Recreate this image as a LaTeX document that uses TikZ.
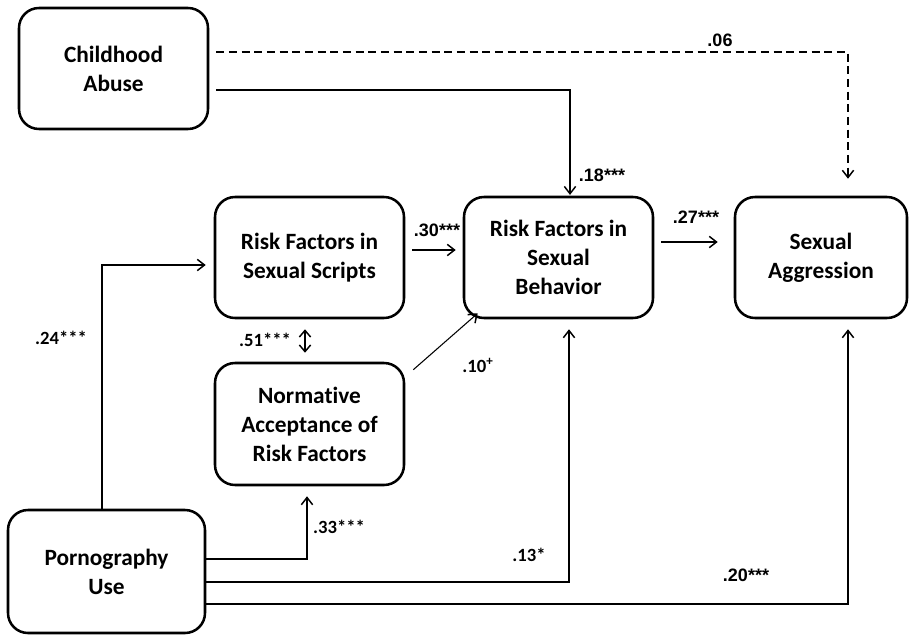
\documentclass[tikz,border=0pt]{standalone}
\usepackage{fontspec}
\setmainfont{Carlito}[Ligatures=NoCommon]
\newfontfamily\arialfont{Liberation Sans}
\usetikzlibrary{arrows.meta,calc}
\begin{document}
\begin{tikzpicture}[x=0.75pt,y=-0.75pt,
  box/.style={draw, line width=1.9pt, rounded corners=15pt, align=center,
    font=\fontsize{17.5}{21.75}\selectfont\bfseries, inner sep=0pt},
  link/.style={line width=1.1pt, -{Straight Barb[length=5.5pt,width=8.5pt,line width=1.1pt]}},
  thinlink/.style={link, line width=0.8pt},
  twoway/.style={line width=1.1pt, {Straight Barb[length=5pt,width=8.5pt,line width=1.1pt]}-{Straight Barb[length=5pt,width=8.5pt,line width=1.1pt]}},
  dashlink/.style={link, dash pattern=on 6pt off 3.5pt},
  coefA/.style={font=\fontsize{13.5}{16}\selectfont\arialfont\bfseries, inner sep=0pt},
  coefC/.style={font=\fontsize{14}{16}\selectfont\bfseries, inner sep=0pt}]
\useasboundingbox (0,0) rectangle (915,635);

% variables
\node[box, minimum width=141.75pt, minimum height=90.75pt] (CA) at (113.5,68.5) {Childhood\\Abuse};
\node[box, minimum width=141.75pt, minimum height=90.75pt] (RS) at (309.5,257.5) {Risk Factors in\\Sexual Scripts};
\node[box, minimum width=141.75pt, minimum height=91.5pt] (NA) at (309.5,424) {Normative\\Acceptance of\\Risk Factors};
\node[box, minimum width=141.75pt, minimum height=90.75pt] (RB) at (558.5,257.5) {Risk Factors in\\Sexual\\Behavior};
\node[box, minimum width=129pt, minimum height=90.75pt] (SA) at (821,257.5) {Sexual\\Aggression};
\node[box, minimum width=147.75pt, minimum height=92.25pt] (PU) at (106.5,571.5) {Pornography\\Use};

% paths
\draw[dashlink, shorten <=5.25pt, shorten >=12.75pt]
  ($(CA.east)+(0,-16.5)$) -| ($(SA.north)+(27,0)$);
\draw[thinlink, shorten <=5.25pt, shorten >=0.6pt]
  ($(CA.east)+(0,21.5)$) -| ($(RB.north)+(11.5,0)$);
\draw[link, shorten <=5.25pt, shorten >=5.25pt]
  ($(RS.east)+(0,-7.5)$) -- ($(RB.west)+(0,-7.5)$);
\draw[link, shorten <=5.25pt, shorten >=12pt]
  ($(RB.east)+(0,-15.5)$) -- ($(SA.west)+(0,-15.5)$);
\draw[twoway, shorten <=7.5pt, shorten >=6.75pt]
  ($(RS.south)+(-4.5,0)$) -- ($(NA.north)+(-4.5,0)$);
\draw[link, shorten >=6pt]
  ($(PU.north)+(-4.5,0)$) |- ($(RS.west)+(0,7.5)$);
\draw[thinlink]
  ($(NA.north east)+(8,8)$) -- ($(RB.south west)+(15,-6)$);
\draw[link, shorten >=7.5pt]
  ($(PU.east)+(0,-12.5)$) -| ($(NA.south)+(-2.5,0)$);
\draw[link, shorten >=7.5pt]
  ($(PU.east)+(0,10.5)$) -| ($(RB.south)+(10.5,0)$);
\draw[link, shorten >=7.5pt]
  ($(PU.east)+(0,32.5)$) -| ($(SA.south)+(27,0)$);

% path coefficients
\node[coefA] (c06) at (720,40) {.06};
\node[coefA] (c18) at (602,175) {.18***};
\node[coefA] (c30) at (437,230) {.30***};
\node[coefA] (c27) at (696,217) {.27***};
\node[coefC] (c24) at (61,338) {.24***};
\node[coefC] (c51) at (265,340) {.51***};
\node[coefC] (c10) at (478,365) {.10\textsuperscript{+}};
\node[coefC] (c33) at (339,527) {.33***};
\node[coefC] (c13) at (529,555) {.13*};
\node[coefA] (c20) at (746,575) {.20***};
\end{tikzpicture}
\end{document}
